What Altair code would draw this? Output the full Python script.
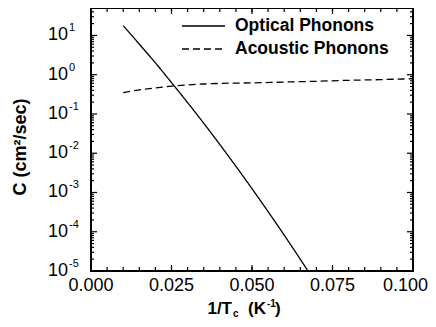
import altair as alt
import pandas as pd

# ---- data ----
opt_x = [0.010, 0.015, 0.020, 0.025, 0.030, 0.040, 0.050, 0.060, 0.0674]
opt_y = [17.8, 6.0, 2.0, 0.63, 0.195, 0.0167, 0.00125, 0.000082, 0.00001]
ac_x = [0.010, 0.015, 0.020, 0.025, 0.030, 0.035, 0.040, 0.050, 0.060, 0.070, 0.080, 0.090, 0.100]
ac_y = [0.35, 0.41, 0.46, 0.51, 0.55, 0.58, 0.60, 0.62, 0.65, 0.68, 0.72, 0.75, 0.79]
series = ["Optical Phonons", "Acoustic Phonons"]
dashes = [[1, 0], [7, 4]]

x_major = [0.0, 0.025, 0.05, 0.075, 0.1]
x_labels = ["0.000", "0.025", "0.050", "0.075", "0.100"]
x_minor = [i / 200 for i in range(21)]
y_major = [1e1, 1e0, 1e-1, 1e-2, 1e-3, 1e-4, 1e-5]
y_exp = ["1", "0", "-1", "-2", "-3", "-4", "-5"]
y_minor = [m * 10.0 ** e for e in range(-5, 2) for m in range(2, 10) if m * 10.0 ** e <= 50]

W, H = 322, 263
FONT = "Liberation Sans"

lines_df = pd.concat([
    pd.DataFrame({"x": opt_x, "y": opt_y, "series": series[0]}),
    pd.DataFrame({"x": ac_x, "y": ac_y, "series": series[1]}),
])

x_scale = alt.Scale(domain=[0, 0.1], nice=False, zero=False, padding=0)
y_scale = alt.Scale(type="log", domain=[1e-5, 50], nice=False, padding=0)

def X(f="x"):
    return alt.X(f + ":Q", scale=x_scale, axis=None)

def Y(f="y"):
    return alt.Y(f + ":Q", scale=y_scale, axis=None)

layers = []

lines = alt.Chart(lines_df).mark_line(color="black", strokeWidth=1.3, clip=True,
                                      interpolate="monotone").encode(
    x=X(),
    y=Y(),
    strokeDash=alt.StrokeDash("series:N", scale=alt.Scale(domain=series, range=dashes), legend=None),
)
layers.append(lines)

# ---- ticks (inward) ----
xmaj_df = pd.DataFrame({"x": x_major, "lab": x_labels})
xmin_df = pd.DataFrame({"x": x_minor})
ymaj_df = pd.DataFrame({"y": y_major, "e": y_exp})
ymin_df = pd.DataFrame({"y": y_minor})

def xticks(df, length):
    base = alt.Chart(df).mark_rule(color="black", strokeWidth=1.2)
    layers.append(base.encode(x=X(), y=alt.value(H), y2=alt.value(H - length)))
    layers.append(base.encode(x=X(), y=alt.value(0), y2=alt.value(length)))

def yticks(df, length):
    base = alt.Chart(df).mark_rule(color="black", strokeWidth=1.2)
    layers.append(base.encode(y=Y(), x=alt.value(0), x2=alt.value(length)))
    layers.append(base.encode(y=Y(), x=alt.value(W), x2=alt.value(W - length)))

xticks(xmaj_df, 6)
xticks(xmin_df, 4)
yticks(ymaj_df, 6)
yticks(ymin_df, 3)

# ---- x labels (last one kept inside the page edge) ----
layers.append(alt.Chart(xmaj_df).mark_text(align="center", baseline="middle", fontSize=18,
                                           font=FONT, color="black").encode(
    x=X(), y=alt.value(H + 15), text="lab:N"
).transform_filter(alt.datum.x < 0.1))
layers.append(alt.Chart(xmaj_df).mark_text(align="right", baseline="middle", fontSize=18,
                                           font=FONT, color="black", dx=15).encode(
    x=X(), y=alt.value(H + 15), text="lab:N"
).transform_filter(alt.datum.x >= 0.1))

# ---- y labels with superscript exponents ----
layers.append(alt.Chart(ymaj_df).mark_text(align="right", baseline="middle", fontSize=18,
                                           font=FONT, color="black", text="10").encode(
    y=Y(), x=alt.value(-23)))
layers.append(alt.Chart(ymaj_df).mark_text(align="left", baseline="middle", fontSize=11,
                                           font=FONT, color="black", dy=-7).encode(
    y=Y(), x=alt.value(-22), text="e:N"))

# ---- titles ----
def txt(s, x, y, size=17, weight="bold", align="left", angle=0):
    props = dict(text=s, align=align, baseline="middle", fontSize=size, fontWeight=weight,
                 font=FONT, color="black")
    if angle:
        props["angle"] = angle
    layers.append(alt.Chart(pd.DataFrame({"k": [0]})).mark_text(**props).encode(
        x=alt.value(x), y=alt.value(y)))

txt("C (cm²/sec)", -70, 139, size=18, angle=270, align="center")
txt("1/T", 141, 301, align="right")
txt("c", 142, 306, size=10)
txt("(K", 157, 301)
txt("-1", 176, 296, size=10)
txt(")", 184, 301)

# ---- legend ----
leg_y = [18, 41]
for s, d, yy in zip(series, dashes, leg_y):
    layers.append(alt.Chart(pd.DataFrame({"k": [0]})).mark_rule(
        color="black", strokeWidth=1.3, strokeDash=d).encode(
        x=alt.value(91), x2=alt.value(134), y=alt.value(yy)))
    txt(s, 144, yy, size=17.5)

chart = alt.layer(*layers).properties(
    width=W, height=H,
    autosize=alt.AutoSizeParams(type="none"),
    padding={"left": 83, "top": 0, "right": 15, "bottom": 48},
).configure_view(stroke="black", strokeWidth=2)

chart.save("out.html", embed_options={"renderer": "svg", "actions": False})
